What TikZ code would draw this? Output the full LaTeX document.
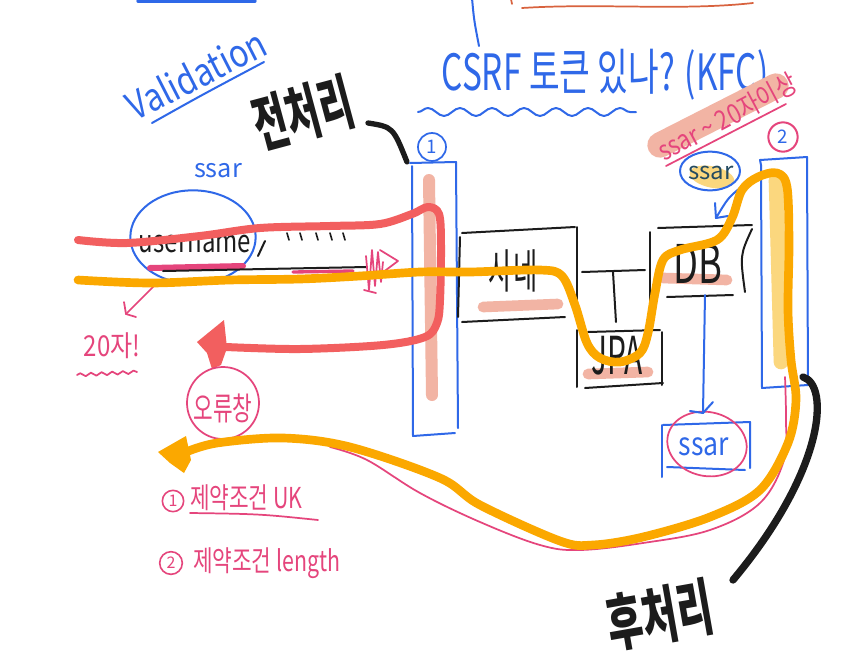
\documentclass[tikz,border=0pt]{standalone}
\usepackage{fontspec}
\setmainfont{Noto Sans CJK KR}
\usetikzlibrary{decorations.pathmorphing,arrows.meta}
\definecolor{penblue}{HTML}{2F68E8}
\definecolor{coral}{HTML}{F25F5F}
\definecolor{pinkc}{HTML}{E5457C}
\definecolor{salmon}{HTML}{F2B4A4}
\definecolor{orangec}{HTML}{FBA800}
\definecolor{lyellow}{HTML}{FBD77E}
\definecolor{ink}{HTML}{1C1C1C}
\definecolor{topred}{HTML}{D8623E}
\definecolor{tealink}{HTML}{244A60}
\newcommand{\myfs}[1]{\fontsize{#1}{#1}\selectfont}
\begin{document}
\begin{tikzpicture}[x=0.75pt,y=-0.75pt,line cap=round,line join=round,
  bluepen/.style={draw=penblue,line width=1.5pt},
  inkpen/.style={draw=ink,line width=1.5pt},
  pinkpen/.style={draw=pinkc,line width=1.3pt},
  redpen/.style={draw=coral,line width=6pt},
  orangepen/.style={draw=orangec,line width=6.5pt},
  hlsalmon/.style={draw=salmon,line width=8pt},
  txt/.style={inner sep=0pt,outer sep=0pt}]
\fill[white] (0,0) rectangle (844,665);
\useasboundingbox (0,0) rectangle (844,665);

% top remnants
\draw[penblue,line width=2.5pt] (138,1) -- (255,1);
\draw[bluepen] (472,-2) .. controls (474,20) .. (479,46);
\draw[topred,line width=1.3pt] (522,8) .. controls (600,3) and (680,11) .. (753,3);
\draw[topred,line width=1.3pt] (511,-1) -- (512,4);

% Validation
\node[txt,text=penblue,font=\myfs{24},rotate=27,yscale=1.2] (valid) at (196,74) {Validation};
\draw[bluepen] (152,123) .. controls (200,96) .. (264,62);

% pre-processing label
\node[txt,text=ink,font=\bfseries\myfs{34},rotate=15,xscale=0.8,yscale=1.35] (pre) at (303,113) {전처리};
\coordinate (preTail) at (368,123);
\coordinate (f1top) at (407,162);
\draw[ink,line width=4pt] (preTail) .. controls (393,127) .. (f1top);

% CSRF
\node[txt,text=penblue,font=\myfs{25},yscale=1.5] (csrf) at (605,75) {CSRF 토큰 있나? (KFC)};
\draw[bluepen,decorate,decoration={snake,segment length=24pt,amplitude=3pt}] (418,112) -- (636,112);

% filter 1
\draw[draw=salmon,line width=9pt] (429,180) -- (432,395);
\draw[bluepen] (410,163) -- (456,162) -- (458,428);
\draw[bluepen] (412,166) -- (413,436) -- (455,433);
\node[txt,circle,draw=penblue,line width=1.3pt,minimum size=21pt,text=penblue,font=\myfs{14}] (c1) at (432,147) {1};

% filter 2
\draw[draw=lyellow,line width=11pt] (776,180) -- (781,362);
\draw[bluepen] (761,165) -- (760,160) -- (807,157) -- (808,385) -- (762,388) -- (761,165);
\node[txt,circle,draw=pinkc,line width=1.5pt,minimum size=22pt,text=penblue,font=\myfs{14}] (c2) at (783,137) {2};

% box A
\draw[inkpen] (462,233) -- (575,227);
\draw[inkpen] (460,237) -- (458,317);
\draw[inkpen] (577,227) -- (577,300);
\draw[inkpen] (462,322) -- (565,317);
\draw[hlsalmon] (483,307) -- (558,304);
\node[txt,text=ink,font=\myfs{22},xscale=0.9,yscale=1.6] (ctl) at (513,271) {사네};

% T
\draw[inkpen] (582,272) -- (645,270);
\draw[inkpen] (613,272) -- (616,322);

% JPA box
\draw[inkpen] (588,332) -- (660,330);
\draw[inkpen] (577,330) -- (577,387);
\draw[inkpen] (662,332) -- (662,385);
\draw[inkpen] (585,388) -- (663,383);
\draw[hlsalmon] (588,374) -- (648,372);
\node[txt,text=ink,font=\myfs{28},xscale=0.8,yscale=1.4] (jpa) at (617,356) {JPA};

% DB box
\draw[inkpen] (650,232) -- (650,305);
\draw[inkpen] (658,228) -- (752,225);
\draw[inkpen] (752,229) .. controls (740,255) .. (745,292);
\draw[inkpen] (667,297) -- (733,295);
\draw[hlsalmon] (663,278) -- (727,280);
\node[txt,text=ink,font=\myfs{32},xscale=0.85,yscale=1.25] (db) at (698,264) {DB};

% stored ssar
\node[txt,text=penblue,font=\myfs{20},yscale=1.2] (store) at (704,447) {ssar};
\draw[bluepen] (662,425) -- (662,477);
\draw[bluepen] (663,425) -- (750,422) -- (750,468);
\draw[bluepen] (667,467) -- (745,470);
\draw[pinkpen,rotate around={-12:(707,444)}] (707,444) ellipse [x radius=30pt, y radius=24pt];
\coordinate (dbBot) at (705,295);
\coordinate (storeTop) at (703,413);
\draw[bluepen] (dbBot) -- (storeTop);
\draw[bluepen] (690,411) -- (storeTop) -- (713,402);

% top ssar oval
\fill[lyellow,rotate around={-12:(712,177)}] (712,177) ellipse [x radius=17pt, y radius=8pt];
\draw[bluepen] (710,171) ellipse [x radius=22.5pt, y radius=14.5pt];
\node[txt,text=tealink,font=\myfs{18}] (ssar2) at (711,173) {ssar};
\coordinate (ovalOut) at (740,188);
\coordinate (dbIn) at (716,218);
\draw[bluepen] (ovalOut) .. controls (728,198) .. (dbIn);
\draw[bluepen] (715,203) -- (dbIn) -- (728,216);

% ssar ~ 20자이상
\draw[draw=salmon,line width=19pt] (660,145) -- (776,86);
\node[txt,text=pinkc,font=\myfs{17},rotate=28,yscale=1.2] (rule) at (727,117) {ssar \textasciitilde{} 20자이상};
\draw[pinkpen] (666,166) -- (786,104);

% left input
\node[txt,text=penblue,font=\myfs{19}] (ssarlbl) at (218,171) {ssar};
\draw[bluepen] (193,237) ellipse [x radius=47pt, y radius=35pt];
\draw[pinkc,line width=4.5pt] (150,268) -- (243,266);
\node[txt,text=ink,font=\myfs{18},yscale=1.3] (user) at (195,244) {username};
\draw[inkpen] (265,241) -- (258,256);
\foreach \dx in {287,300,316,330,343} \draw[ink,line width=1.2pt] (\dx,233) -- (\dx+2,240);
\coordinate (inStart) at (163,271);
\coordinate (inEnd) at (367,267);
\draw[inkpen] (inStart) -- (inEnd);
\draw[pinkc,line width=2.5pt] (293,272) -- (353,271);
\draw[pinkc,line width=1.3pt] (366,256) -- (369,290) -- (372,250) -- (375,286) -- (378,252) -- (381,282) -- (383,262);
\draw[pinkc,line width=1.3pt] (380,250) -- (398,261) -- (378,276);
\draw[pinkc,line width=1.3pt] (364,290) -- (376,293);

% 20자!
\node[txt,text=pinkc,font=\myfs{18},yscale=1.2] (twenty) at (112,346) {20자!};
\draw[pinkpen,decorate,decoration={snake,segment length=8pt,amplitude=1.2pt}] (77,375) -- (137,372);
\draw[pinkpen] (157,283) -- (126,314);
\draw[pinkpen] (124,302) -- (126,314) -- (136,317);

% red rejected path
\draw[redpen] plot[smooth,tension=0.55] coordinates {(78,240) (127,243) (200,236) (260,228) (330,226) (380,224) (412,214) (428,207) (439,214) (441,245) (440,300) (437,323) (425,337) (383,345) (300,349) (226,347)};
\fill[coral] (224,320) -- (197,342) -- (207,353) -- (212,369) -- (221,365) -- (227,348) -- cycle;

% error window
\node[txt,circle,draw=pinkc,line width=1.3pt,minimum size=54pt] (errc) at (223,403) {};
\node[txt,text=pinkc,font=\myfs{16},yscale=1.5] (err) at (223,408) {오류창};

% pink return line
\draw[pinkpen] plot[smooth,tension=0.6] coordinates {(785,377) (786,420) (784,460) (760,503) (710,530) (643,543) (580,550) (540,545) (480,522) (420,493) (367,460) (330,447)};

% orange success path
\draw[orangepen] plot[smooth,tension=0.55] coordinates {(78,280) (150,283) (230,280) (300,279) (360,276) (420,272) (470,272) (540,270) (562,276) (575,305) (587,343) (600,358) (620,362) (640,353) (648,333) (655,293) (663,260) (680,250) (717,240) (732,218) (742,190) (758,177) (777,173) (787,187) (789,243) (788,310) (791,360) (796,400) (788,443) (760,490) (710,517) (643,537) (593,545) (560,541) (480,505) (440,478) (350,447) (283,438) (217,443) (186,452)};
\fill[orangec] (186,436) -- (158,452) -- (170,463) -- (184,473) -- (191,460) -- cycle;

% post-processing
\coordinate (f2bot) at (803,377);
\coordinate (postTail) at (733,580);
\draw[ink,line width=5.5pt] (f2bot) .. controls (830,385) and (825,470) .. (postTail);
\node[txt,text=ink,font=\bfseries\myfs{36},rotate=10,xscale=0.8,yscale=1.3] (post) at (660,615) {후처리};

% constraints
\node[txt,circle,draw=pinkc,line width=1.2pt,minimum size=16pt,text=pinkc,font=\myfs{12}] (n1) at (173,501) {1};
\node[txt,text=pinkc,font=\myfs{16},yscale=1.35,anchor=west] (uk) at (190,498) {제약조건 UK};
\draw[pinkpen] (190,513) .. controls (260,514) .. (318,520);
\node[txt,circle,draw=pinkc,line width=1.2pt,minimum size=17pt,text=pinkc,font=\myfs{12}] (n2) at (171,563) {2};
\node[txt,text=pinkc,font=\myfs{16},yscale=1.35,anchor=west] (len) at (193,563) {제약조건 length};
\end{tikzpicture}
\end{document}
